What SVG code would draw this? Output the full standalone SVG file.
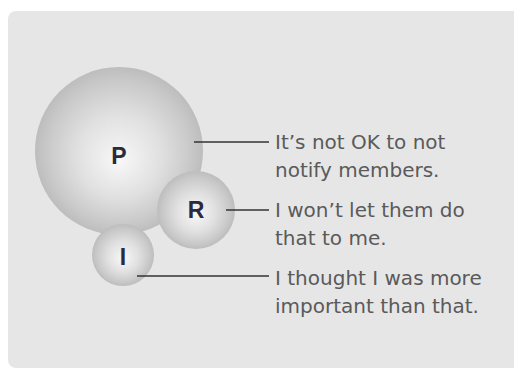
<svg xmlns="http://www.w3.org/2000/svg" width="514" height="374" viewBox="0 0 514 374">
<defs>
<radialGradient id="sph" cx="0.5" cy="0.5" r="0.5" fx="0.5" fy="0.56">
<stop offset="0" stop-color="#f8f8f8"/>
<stop offset="0.5" stop-color="#e0e0e1"/>
<stop offset="0.85" stop-color="#c9c9ca"/>
<stop offset="1" stop-color="#bdbdbe"/>
</radialGradient>
<style>
.ball{fill:url(#sph);}
.lbl{font-family:"Liberation Sans",Arial,sans-serif;font-weight:bold;font-size:23px;fill:#2a2a3c;text-anchor:middle;}
.txt{font-family:"DejaVu Sans","Liberation Sans",sans-serif;font-size:20px;fill:#5a5a5a;}
.conn line{stroke:#333;stroke-width:1.6;}
</style>
</defs>
<rect x="0" y="0" width="514" height="374" fill="#ffffff"/>
<rect x="8" y="11" width="520" height="357" rx="8" fill="#e6e6e7"/>
<g id="node-P">
<circle class="ball" cx="119" cy="151" r="84"/>
<text class="lbl" x="119" y="164">P</text>
</g>
<g id="node-R">
<circle class="ball" cx="196" cy="210" r="39"/>
<text class="lbl" x="196" y="218">R</text>
</g>
<g id="node-I">
<circle class="ball" cx="123" cy="255" r="31"/>
<text class="lbl" x="123" y="265">I</text>
</g>
<g class="conn" id="connectors">
<line x1="194" y1="142" x2="269" y2="142"/>
<line x1="226" y1="210" x2="269" y2="210"/>
<line x1="137" y1="276" x2="269" y2="276"/>
</g>
<g id="text-P">
<text class="txt" x="275" y="149">It’s not OK to not</text>
<text class="txt" x="275" y="177">notify members.</text>
</g>
<g id="text-R">
<text class="txt" x="275" y="217">I won’t let them do</text>
<text class="txt" x="275" y="245">that to me.</text>
</g>
<g id="text-I">
<text class="txt" x="275" y="285">I thought I was more</text>
<text class="txt" x="275" y="313">important than that.</text>
</g>
</svg>
